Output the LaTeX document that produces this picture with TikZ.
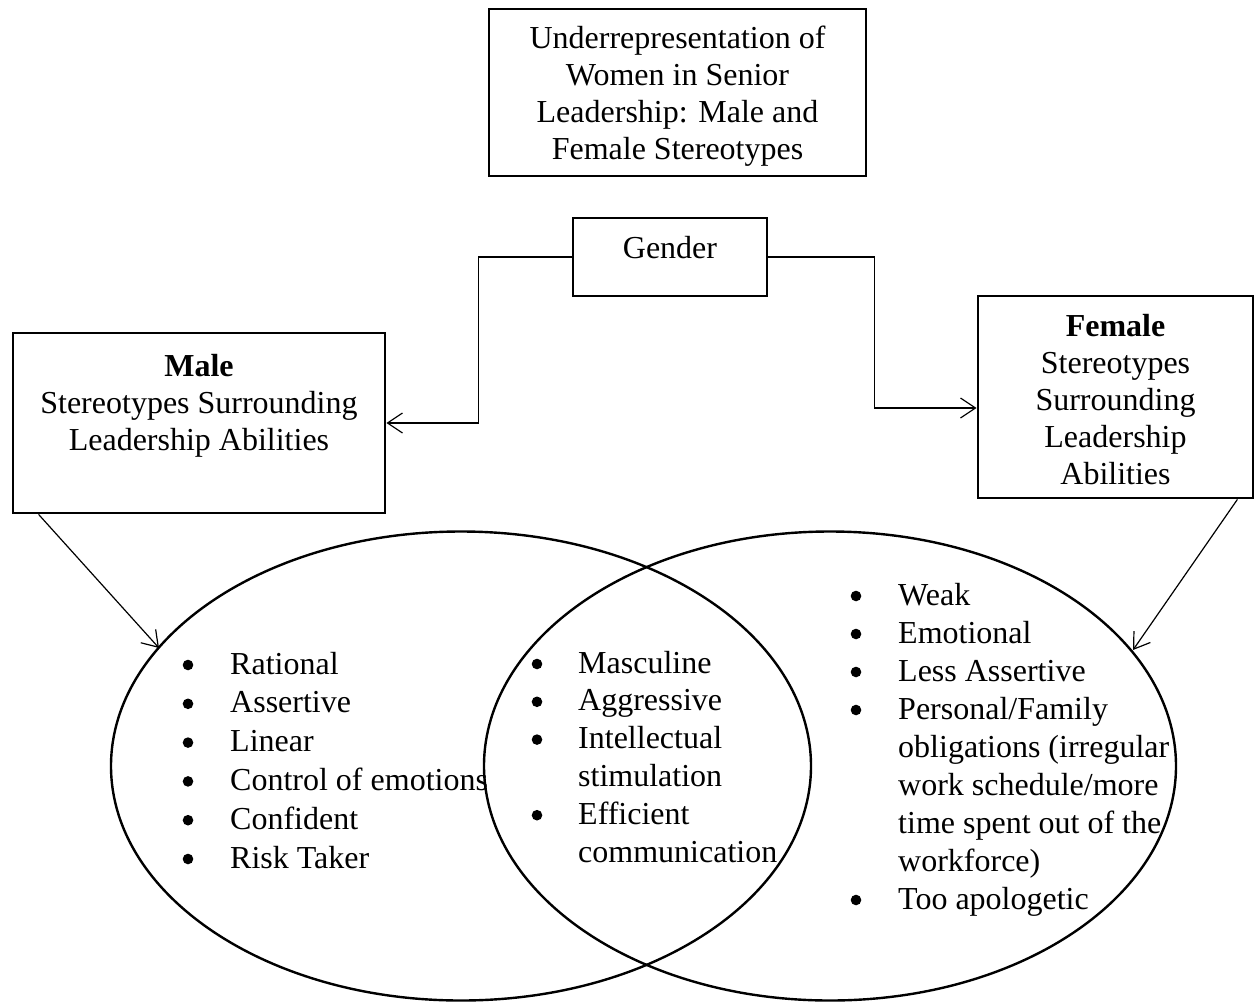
\documentclass[tikz,border=0pt]{standalone}
\usepackage{fontspec}
\setmainfont{Liberation Serif}
\usetikzlibrary{arrows.meta,shapes.geometric}
\begin{document}
\begin{tikzpicture}[x=1pt,y=-1pt,
  box/.style={draw, line width=2.8pt, rectangle, inner sep=0pt},
  conn/.style={line width=1.2pt, -{Straight Barb[length=15pt,width=20pt,line width=1.2pt]}},
  venn/.style={draw, ellipse, line width=2.4pt, inner sep=0pt},
  txt/.style={font=\fontsize{32}{37}\selectfont, align=center, inner sep=0pt},
  list/.style={inner sep=0pt, anchor=base west},
  bul/.style={fill=black}
]
\useasboundingbox (0,0) rectangle (1256,1002);

% title
\node[box, minimum width=377pt, minimum height=167pt] (title) at (677.5,92.5) {};
\node[txt] (titletxt) at (677.5,96)
  {Underrepresentation of\\Women in Senior\\Leadership: Male and\\Female Stereotypes};

% gender
\node[box, minimum width=194pt, minimum height=78pt] (gender) at (670,257) {};
\node[txt, anchor=base] (gendertxt) at (670,258) {Gender};

% male
\node[box, minimum width=372pt, minimum height=180pt] (male) at (199,423) {};
\node[txt, anchor=north] (maletxt) at (199,354)
  {\textbf{Male}\\Stereotypes Surrounding\\Leadership Abilities};

% female
\node[box, minimum width=275pt, minimum height=202pt] (female) at (1115.5,397) {};
\node[txt] (femaletxt) at (1115.5,400)
  {\textbf{Female}\\Stereotypes\\Surrounding\\Leadership\\Abilities};

% ellipses
\node[venn, minimum width=700pt, minimum height=469pt] (lell) at (461,766) {};
\node[venn, minimum width=692pt, minimum height=469pt] (rell) at (830,766) {};

% connectors
\draw[conn] (gender.west) -- ++(-93,0) |- (male.east);
\draw[conn] (gender.east) -- ++(106,0) |- ([yshift=-11pt]female.west);
\coordinate (lin) at (159,648);
\coordinate (rin) at (1133,650);
\draw[conn] ([xshift=27pt]male.south west) -- (lin);
\draw[conn] ([xshift=-17pt]female.south east) -- (rin);

% lists
\node[list] (mlist) at (230,674) {\fontsize{32}{38.8}\selectfont
  \begin{tabular}[t]{@{}l@{}}
  Rational\\
  Assertive\\
  Linear\\
  Control of emotions\\
  Confident\\
  Risk Taker
  \end{tabular}};
\foreach \k in {0,...,5} \fill[bul] (188,{665+38.8*\k}) circle (5.3pt);

\node[list] (clist) at (578,673) {\fontsize{32}{37.8}\selectfont
  \begin{tabular}[t]{@{}l@{}}
  Masculine\\
  Aggressive\\
  Intellectual\\
  stimulation\\
  Efficient\\
  communication
  \end{tabular}};
\foreach \k in {0,1,2,4} \fill[bul] (537,{664+37.8*\k}) circle (5.3pt);

\node[list] (flist) at (898,605) {\fontsize{32}{38}\selectfont
  \begin{tabular}[t]{@{}l@{}}
  Weak\\
  Emotional\\
  Less Assertive\\
  Personal/Family\\
  obligations (irregular\\
  work schedule/more\\
  time spent out of the\\
  workforce)\\
  Too apologetic
  \end{tabular}};
\foreach \k in {0,1,2,3,8} \fill[bul] (856,{596+38*\k}) circle (5.3pt);
\end{tikzpicture}
\end{document}
